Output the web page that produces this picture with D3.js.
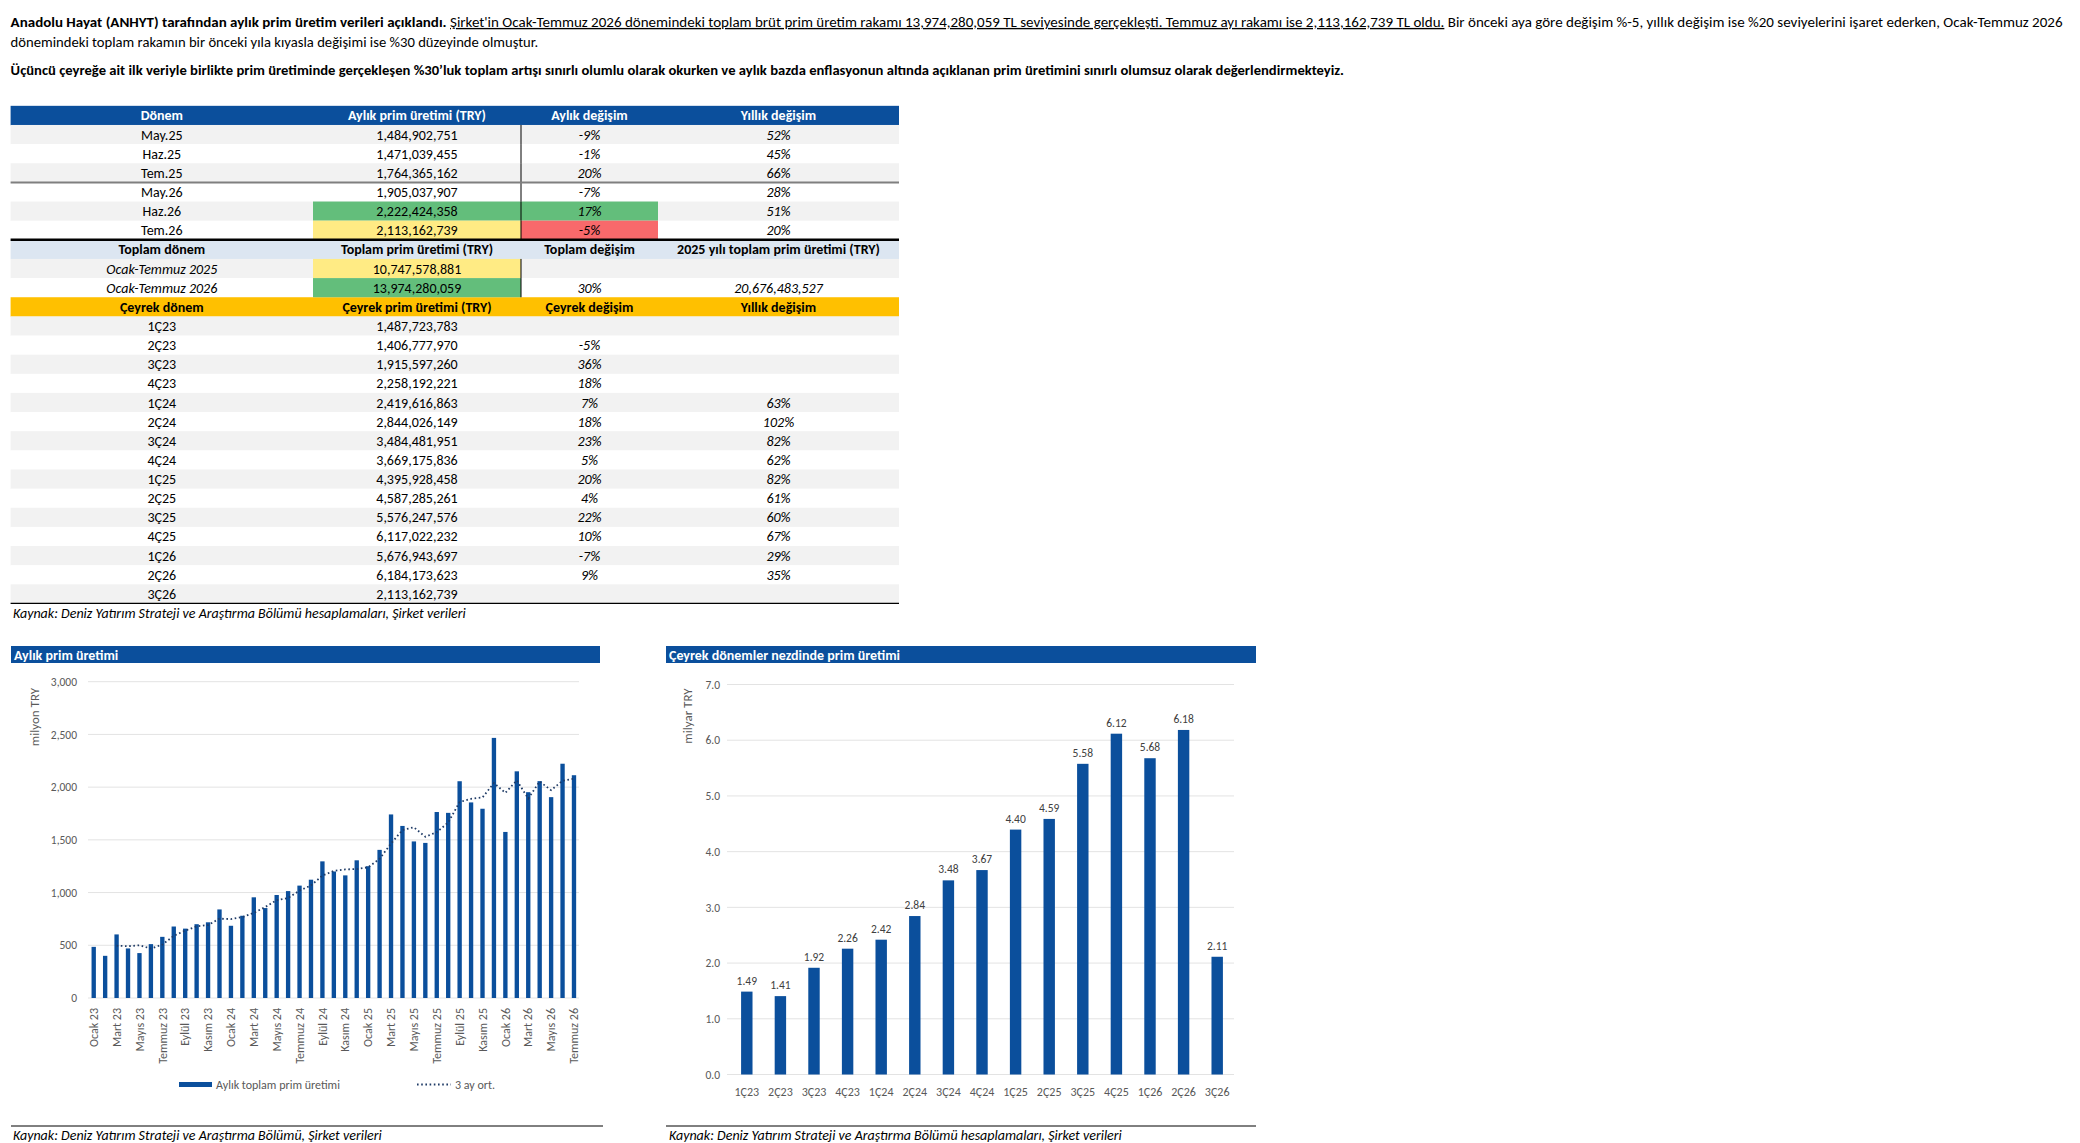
<!DOCTYPE html>
<html><head><meta charset="utf-8">
<script src="https://cdn.jsdelivr.net/npm/d3@7"></script>
<style>body{margin:0;background:#fff}svg{display:block}</style>
</head><body>
<svg id="c" width="2080" height="1143"></svg>
<script>
const FONT = "Carlito, Calibri, 'Liberation Sans Narrow', 'Liberation Sans', Arial, sans-serif";

// ---------------- DATA ----------------
const monthLabels = [
 "Ocak 23","Şubat 23","Mart 23","Nisan 23","Mayıs 23","Haziran 23","Temmuz 23","Ağustos 23","Eylül 23","Ekim 23","Kasım 23","Aralık 23",
 "Ocak 24","Şubat 24","Mart 24","Nisan 24","Mayıs 24","Haziran 24","Temmuz 24","Ağustos 24","Eylül 24","Ekim 24","Kasım 24","Aralık 24",
 "Ocak 25","Şubat 25","Mart 25","Nisan 25","Mayıs 25","Haziran 25","Temmuz 25","Ağustos 25","Eylül 25","Ekim 25","Kasım 25","Aralık 25",
 "Ocak 26","Şubat 26","Mart 26","Nisan 26","Mayıs 26","Haziran 26","Temmuz 26"];
// monthly premium, million TRY
const monthlyPremium = [485,400,603,470,426,511,580,678,658,700,718,840,
 685,780,955,853,977,1014,1066,1122,1296,1200,1163,1306,
 1250,1405,1741,1632,1485,1471,1764,1756,2056,1855,1795,2467,
 1575,2150,1952,2057,1905,2222,2113];
// 3-month average, million TRY
const avg3 = [null,null,496,491,500,469,506,590,639,679,692,753,
 748,768,807,863,928,948,1019,1067,1161,1206,1220,1223,
 1240,1320,1465,1593,1619,1529,1573,1664,1859,1889,1902,2039,
 1946,2064,1892,2053,1971,2061,2080];
const monthTicks = ["Ocak 23","Mart 23","Mayıs 23","Temmuz 23","Eylül 23","Kasım 23","Ocak 24","Mart 24","Mayıs 24","Temmuz 24","Eylül 24","Kasım 24",
 "Ocak 25","Mart 25","Mayıs 25","Temmuz 25","Eylül 25","Kasım 25","Ocak 26","Mart 26","Mayıs 26","Temmuz 26"];
const leftYTicks = [0,500,1000,1500,2000,2500,3000];

const quarterLabels = ["1Ç23","2Ç23","3Ç23","4Ç23","1Ç24","2Ç24","3Ç24","4Ç24","1Ç25","2Ç25","3Ç25","4Ç25","1Ç26","2Ç26","3Ç26"];
const quarterPremium = [1487723783,1406777970,1915597260,2258192221,2419616863,2844026149,3484481951,3669175836,4395928458,4587285261,5576247576,6117022232,5676943697,6184173623,2113162739];
const quarterQoQ = ["","-5%","36%","18%","7%","18%","23%","5%","20%","4%","22%","10%","-7%","9%",""];
const quarterYoY = ["","","","","63%","102%","82%","62%","82%","61%","60%","67%","29%","35%",""];
const rightYTicks = [0,1,2,3,4,5,6,7];

const monthRows = ["May.25","Haz.25","Tem.25","May.26","Haz.26","Tem.26"];
const monthRowPremium = [1484902751,1471039455,1764365162,1905037907,2222424358,2113162739];
const monthRowMoM = ["-9%","-1%","20%","-7%","17%","-5%"];
const monthRowYoY = ["52%","45%","66%","28%","51%","20%"];

const totalRows = ["Ocak-Temmuz 2025","Ocak-Temmuz 2026"];
const totalPremium = [10747578881,13974280059];
const totalChange = ["","30%"];
const total2025 = ["","20,676,483,527"];

const headMonthly = ["Dönem","Aylık prim üretimi (TRY)","Aylık değişim","Yıllık değişim"];
const headTotal = ["Toplam dönem","Toplam prim üretimi (TRY)","Toplam değişim","2025 yılı toplam prim üretimi (TRY)"];
const headQuarter = ["Çeyrek dönem","Çeyrek prim üretimi (TRY)","Çeyrek değişim","Yıllık değişim"];

// ---------------- DRAW ----------------
const svg = d3.select("#c").attr("font-family", FONT);
const BLUE = "#0b4f9c", GRAY_TXT = "#595959";

// paragraph
function fitLine(x, y, segs, targetW) {
  const t = svg.append("text").attr("x", x).attr("y", y).attr("font-size", 13.5).attr("fill", "#000");
  segs.forEach(s => {
    const ts = t.append("tspan").text(s.t);
    if (s.b) ts.attr("font-weight", "bold");
    if (s.u) ts.style("text-decoration", "underline");
  });
  const w = t.node().getComputedTextLength();
  t.attr("transform", `translate(${x},0) scale(${targetW / w},1) translate(${-x},0)`);
}
fitLine(10.6, 27, [
  {t:"Anadolu Hayat (ANHYT) tarafından aylık prim üretim verileri açıklandı.", b:true},
  {t:" "},
  {t:"Şirket'in Ocak-Temmuz 2026 dönemindeki toplam brüt prim üretim rakamı 13,974,280,059 TL seviyesinde gerçekleşti. Temmuz ayı rakamı ise 2,113,162,739 TL oldu.", u:true},
  {t:" Bir önceki aya göre değişim %-5, yıllık değişim ise %20 seviyelerini işaret ederken, Ocak-Temmuz 2026"}
], 2053);
fitLine(10.6, 47, [{t:"dönemindeki toplam rakamın bir önceki yıla kıyasla değişimi ise %30 düzeyinde olmuştur."}], 528);
fitLine(10.6, 75, [{t:"Üçüncü çeyreğe ait ilk veriyle birlikte prim üretiminde gerçekleşen %30’luk toplam artışı sınırlı olumlu olarak okurken ve aylık bazda enflasyonun altında açıklanan prim üretimini sınırlı olumsuz olarak değerlendirmekteyiz.", b:true}], 1335);

// ---------- TABLE ----------
const colX = [10.6, 313, 521, 658, 899];
const colC = [0,1,2,3].map(i => (colX[i] + colX[i+1]) / 2);
const rowH = 19.14, row0 = 115.4;
const rowTop = i => row0 + i * rowH - rowH / 2;
const rows = [];
rows.push({type:"head", bg:BLUE, color:"#fff", cells:headMonthly});
monthRows.forEach((m, i) => rows.push({type:"data", bg: i % 2 === 0 ? "#f2f2f2" : "#fff",
  cells:[m, d3.format(",")(monthRowPremium[i]), monthRowMoM[i], monthRowYoY[i]], italic:[false,false,true,true], vline:true}));
rows.push({type:"head", bg:"#dce6f1", color:"#000", cells:headTotal});
totalRows.forEach((m, i) => rows.push({type:"data", bg: i % 2 === 0 ? "#f2f2f2" : "#fff",
  cells:[m, d3.format(",")(totalPremium[i]), totalChange[i], total2025[i]], italic:[true,false,true,true], vline:true}));
rows.push({type:"head", bg:"#ffc000", color:"#000", cells:headQuarter});
quarterLabels.forEach((q, i) => rows.push({type:"data", bg: i % 2 === 0 ? "#f2f2f2" : "#fff",
  cells:[q, d3.format(",")(quarterPremium[i]), quarterQoQ[i], quarterYoY[i]], italic:[false,false,true,true]}));

// cell highlights (row index, col index, color)
const highlights = [[5,1,"#63be7b"],[5,2,"#63be7b"],[6,1,"#ffeb84"],[6,2,"#f8696b"],[8,1,"#ffeb84"],[9,1,"#63be7b"]];

const tg = svg.append("g");
rows.forEach((r, i) => {
  tg.append("rect").attr("x", colX[0]).attr("y", rowTop(i)).attr("width", colX[4] - colX[0]).attr("height", rowH + 0.3).attr("fill", r.bg);
});
highlights.forEach(([ri, ci, c]) => {
  tg.append("rect").attr("x", colX[ci]).attr("y", rowTop(ri)).attr("width", colX[ci+1] - colX[ci]).attr("height", rowH).attr("fill", c);
});
rows.forEach((r, i) => {
  r.cells.forEach((c, ci) => {
    if (!c) return;
    const t = tg.append("text").attr("x", colC[ci]).attr("y", row0 + i * rowH + 5)
      .attr("text-anchor", "middle").attr("font-size", 14).text(c)
      .attr("fill", r.type === "head" ? r.color : "#000")
      .attr("font-weight", r.type === "head" ? "bold" : null)
      .attr("font-style", r.italic && r.italic[ci] ? "italic" : null);
    const maxW = colX[ci+1] - colX[ci] - 8;
    const w = t.node().getComputedTextLength();
    if (w > maxW) {
      const cx = colC[ci];
      t.attr("transform", `translate(${cx},0) scale(${maxW / w},1) translate(${-cx},0)`);
    }
  });
  if (r.vline) tg.append("line").attr("x1", colX[2]).attr("x2", colX[2]).attr("y1", rowTop(i)).attr("y2", rowTop(i) + rowH).attr("stroke", "#000").attr("stroke-width", 1);
});
tg.append("line").attr("x1", colX[0]).attr("x2", colX[4]).attr("y1", rowTop(4)).attr("y2", rowTop(4)).attr("stroke", "#7f7f7f").attr("stroke-width", 2);
tg.append("line").attr("x1", colX[0]).attr("x2", colX[4]).attr("y1", rowTop(7)).attr("y2", rowTop(7)).attr("stroke", "#000").attr("stroke-width", 2.5);
tg.append("line").attr("x1", colX[0]).attr("x2", colX[4]).attr("y1", rowTop(26)).attr("y2", rowTop(26)).attr("stroke", "#000").attr("stroke-width", 1.3);
tg.append("text").attr("x", 13).attr("y", 618).attr("font-size", 14).attr("font-style", "italic").attr("fill", "#000")
  .text("Kaynak: Deniz Yatırım Strateji ve Araştırma Bölümü hesaplamaları, Şirket verileri");

// ---------- PANEL HEADERS ----------
function panelHeader(x0, x1, title) {
  svg.append("rect").attr("x", x0).attr("y", 646).attr("width", x1 - x0).attr("height", 17).attr("fill", BLUE);
  svg.append("text").attr("x", x0 + 3).attr("y", 659.5).attr("font-size", 14).attr("font-weight", "bold").attr("fill", "#fff").text(title);
}
panelHeader(11, 600, "Aylık prim üretimi");
panelHeader(666, 1256, "Çeyrek dönemler nezdinde prim üretimi");

// ---------- LEFT CHART ----------
const xM = d3.scaleBand().domain(monthLabels).range([88, 579.7]).paddingInner(0.62).paddingOuter(0.31);
const yM = d3.scaleLinear().domain([0, 3000]).range([998, 681.7]);
const lg = svg.append("g");
lg.append("g").selectAll("line").data(leftYTicks).join("line")
  .attr("x1", 88).attr("x2", 579).attr("y1", d => yM(d)).attr("y2", d => yM(d)).attr("stroke", "#e3e3e3").attr("stroke-width", 1);
const yAxisL = d3.axisLeft(yM).tickValues(leftYTicks).tickFormat(d3.format(",")).tickSize(0).tickPadding(0);
lg.append("g").attr("transform", "translate(77,0)").call(yAxisL)
  .call(g => g.select(".domain").remove())
  .call(g => g.selectAll("text").attr("font-family", FONT).attr("font-size", 11.5).attr("fill", GRAY_TXT));
lg.append("g").selectAll("rect").data(monthlyPremium).join("rect")
  .attr("x", (d, i) => xM(monthLabels[i])).attr("width", xM.bandwidth())
  .attr("y", d => yM(d)).attr("height", d => yM(0) - yM(d)).attr("fill", BLUE);
const avgLine = d3.line().defined(d => d[1] != null).x(d => xM(d[0]) + xM.bandwidth() / 2).y(d => yM(d[1]));
lg.append("path").datum(monthLabels.map((m, i) => [m, avg3[i]])).attr("d", avgLine)
  .attr("fill", "none").attr("stroke", "#1f3b66").attr("stroke-width", 1.8).attr("stroke-dasharray", "1.6 2.6");
const xAxisL = d3.axisBottom(xM).tickValues(monthTicks).tickSize(0).tickPadding(0);
lg.append("g").attr("transform", "translate(0,1008)").call(xAxisL)
  .call(g => g.select(".domain").remove())
  .call(g => g.selectAll("text").attr("font-family", FONT).attr("font-size", 12).attr("fill", GRAY_TXT)
     .attr("transform", "rotate(-90)").attr("text-anchor", "end").attr("x", 0).attr("y", 0).attr("dy", "0.35em"));
lg.append("text").attr("transform", "translate(39,717) rotate(-90)").attr("text-anchor", "middle")
  .attr("font-size", 13).attr("fill", GRAY_TXT).text("milyon TRY");
// legend
lg.append("rect").attr("x", 179).attr("y", 1082).attr("width", 33).attr("height", 5).attr("fill", BLUE);
lg.append("text").attr("x", 216).attr("y", 1089).attr("font-size", 12).attr("fill", GRAY_TXT).text("Aylık toplam prim üretimi");
lg.append("line").attr("x1", 417).attr("x2", 451).attr("y1", 1084.5).attr("y2", 1084.5)
  .attr("stroke", "#1f3b66").attr("stroke-width", 1.8).attr("stroke-dasharray", "1.6 2.6");
lg.append("text").attr("x", 455).attr("y", 1089).attr("font-size", 12).attr("fill", GRAY_TXT).text("3 ay ort.");
lg.append("line").attr("x1", 11).attr("x2", 603).attr("y1", 1126).attr("y2", 1126).attr("stroke", "#000").attr("stroke-width", 1);
lg.append("text").attr("x", 13).attr("y", 1140).attr("font-size", 14).attr("font-style", "italic").attr("fill", "#000")
  .text("Kaynak: Deniz Yatırım Strateji ve Araştırma Bölümü, Şirket verileri");

// ---------- RIGHT CHART ----------
const xQ = d3.scaleBand().domain(quarterLabels).range([730, 1234]).paddingInner(0.66).paddingOuter(0.33);
const yQ = d3.scaleLinear().domain([0, 7]).range([1074.5, 684.5]);
const rg = svg.append("g");
rg.append("g").selectAll("line").data(rightYTicks).join("line")
  .attr("x1", 727).attr("x2", 1234).attr("y1", d => yQ(d)).attr("y2", d => yQ(d)).attr("stroke", "#e3e3e3").attr("stroke-width", 1);
const yAxisR = d3.axisLeft(yQ).tickValues(rightYTicks).tickFormat(d3.format(".1f")).tickSize(0).tickPadding(0);
rg.append("g").attr("transform", "translate(720,0)").call(yAxisR)
  .call(g => g.select(".domain").remove())
  .call(g => g.selectAll("text").attr("font-family", FONT).attr("font-size", 11.5).attr("fill", GRAY_TXT));
const qBn = quarterPremium.map(v => v / 1e9);
rg.append("g").selectAll("rect").data(qBn).join("rect")
  .attr("x", (d, i) => xQ(quarterLabels[i])).attr("width", xQ.bandwidth())
  .attr("y", d => yQ(d)).attr("height", d => yQ(0) - yQ(d)).attr("fill", BLUE);
rg.append("g").selectAll("text").data(qBn).join("text")
  .attr("x", (d, i) => xQ(quarterLabels[i]) + xQ.bandwidth() / 2).attr("y", d => yQ(d) - 7)
  .attr("text-anchor", "middle").attr("font-size", 11.5).attr("fill", "#404040").text(d => d3.format(".2f")(d));
const xAxisR = d3.axisBottom(xQ).tickSize(0).tickPadding(0);
rg.append("g").attr("transform", "translate(0,1087)").call(xAxisR)
  .call(g => g.select(".domain").remove())
  .call(g => g.selectAll("text").attr("font-family", FONT).attr("font-size", 12).attr("fill", GRAY_TXT).attr("dy", "0.71em"));
rg.append("text").attr("transform", "translate(692,716) rotate(-90)").attr("text-anchor", "middle")
  .attr("font-size", 13).attr("fill", GRAY_TXT).text("milyar TRY");
rg.append("line").attr("x1", 666).attr("x2", 1256).attr("y1", 1126).attr("y2", 1126).attr("stroke", "#000").attr("stroke-width", 1);
rg.append("text").attr("x", 669).attr("y", 1140).attr("font-size", 14).attr("font-style", "italic").attr("fill", "#000")
  .text("Kaynak: Deniz Yatırım Strateji ve Araştırma Bölümü hesaplamaları, Şirket verileri");
</script>
</body></html>
